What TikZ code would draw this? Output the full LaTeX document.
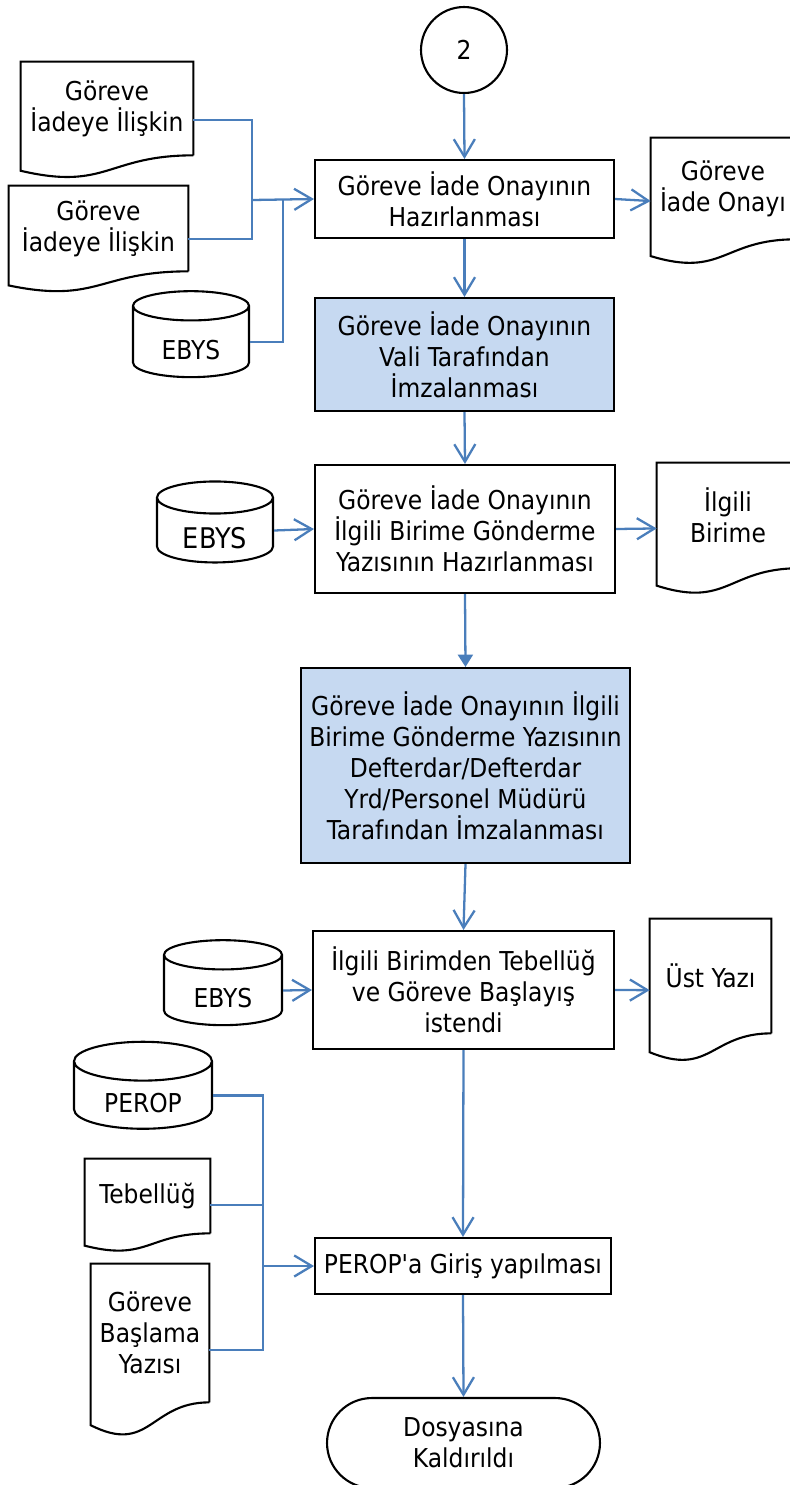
\documentclass[tikz,border=0pt]{standalone}
\usepackage{fontspec}
\setmainfont{DejaVu Sans Condensed}
\usetikzlibrary{arrows.meta,calc,shapes.geometric,shapes.misc}

\definecolor{lineblue}{RGB}{74,126,187}
\definecolor{boxblue}{RGB}{198,217,241}
\newcommand{\lowtext}[1]{\raisebox{-4.5pt}[\height][\depth]{#1}}

\begin{document}
\begin{tikzpicture}[x=0.02cm, y=-0.02cm,
  every node/.style={font=\fontsize{14.8}{17.6}\selectfont, align=center, inner sep=0pt},
  stepbox/.style={draw, line width=1.2pt, rectangle},
  signbox/.style={stepbox, fill=boxblue},
  doc/.style={rectangle},
  db/.style={draw, line width=1.2pt, cylinder, shape border rotate=90, aspect=0.5},
  outline/.style={line width=1.2pt},
  flow/.style={draw=lineblue, line width=1.3pt},
  >={Straight Barb[length=10pt,width=12pt]}]
\useasboundingbox (0,0) rectangle (790,1485);

\node [draw, circle, line width=1.2pt, minimum size=1.72cm] (c2) at (464,50) {2};
\node [stepbox, minimum width=5.98cm, minimum height=1.56cm] (b1) at (464.5,199) {Göreve İade Onayının\\Hazırlanması};
\node [signbox, minimum width=5.98cm, minimum height=2.26cm] (b2) at (464.5,354.5) {Göreve İade Onayının\\Vali Tarafından\\İmzalanması};
\node [stepbox, minimum width=6cm, minimum height=2.56cm] (b3) at (465,529) {Göreve İade Onayının\\İlgili Birime Gönderme\\Yazısının Hazırlanması};
\node [signbox, minimum width=6.58cm, minimum height=3.9cm] (b4) at (465.5,765.5) {Göreve İade Onayının İlgili\\Birime Gönderme Yazısının\\Defterdar/Defterdar\\Yrd/Personel Müdürü\\Tarafından İmzalanması};
\node [stepbox, minimum width=6.02cm, minimum height=2.36cm] (b5) at (463.5,990) {İlgili Birimden Tebellüğ\\ve Göreve Başlayış\\istendi};
\node [stepbox, minimum width=5.92cm, minimum height=1.12cm] (b6) at (463,1266) {PEROP\textquotesingle a Giriş yapılması};
\node [draw, rounded rectangle, line width=1.2pt, minimum width=5.46cm, minimum height=1.8cm] (term) at (463.5,1443) {Dosyasına\\Kaldırıldı};

\node [doc, minimum width=3.44cm, minimum height=1.86cm] (ilsk1) at (107,108.5) {Göreve\\İadeye İlişkin};
\node [doc, minimum width=3.58cm, minimum height=1.7cm] (ilsk2) at (98.5,228.5) {Göreve\\İadeye İlişkin};
\node [doc, minimum width=2.88cm, minimum height=2.02cm] (dgio) at (723,188.5) {Göreve\\İade Onayı};
\node [doc, minimum width=2.84cm, minimum height=2.1cm] (dilg) at (728,515.4) {İlgili\\Birime};
\node [doc, minimum width=2.42cm, minimum height=2.28cm] (dust) at (710.5,976) {Üst Yazı};
\node [doc, minimum width=2.5cm, minimum height=1.48cm] (teb) at (147.5,1196) {Tebellüğ};
\node [doc, minimum width=2.36cm, minimum height=2.76cm] (gby) at (150,1333) {Göreve\\Başlama\\Yazısı};

\node [db, minimum width=2.32cm, minimum height=1.72cm] (ebys1) at (191,342) {\lowtext{EBYS}};
\node [db, minimum width=2.32cm, minimum height=1.62cm, font=\fontsize{16.2}{19}\selectfont] (ebys2) at (215,530.5) {\lowtext{EBYS}};
\node [db, minimum width=2.36cm, minimum height=1.7cm] (ebys3) at (223,990.5) {\lowtext{EBYS}};
\node [db, minimum width=2.76cm, minimum height=1.74cm] (perop) at (143,1095.5) {\lowtext{PEROP}};

\foreach \dc in {ilsk1,ilsk2,dgio,dilg,dust,teb,gby} {
  \draw [outline] (\dc.south east) -- (\dc.north east) -- (\dc.north west)
    -- ($(\dc.north west)!1.1646!(\dc.south west)$)
    .. controls ($(\dc.north)!1.381!(\dc.south)$) and (\dc.south) .. (\dc.south east);
  \coordinate (\dc-w) at ($(\dc.north west)!0.6234!(\dc.south west)$);
  \coordinate (\dc-e) at ($(\dc.north east)!0.6234!(\dc.south east)$);
}

\coordinate (j1) at (252,200);
\coordinate (j2) at (283,200);
\coordinate (j3) at (263,1266);

\draw [flow, ->] (c2.south) -- (b1.north);
\draw [flow, ->] (b1.south) -- (b2.north);
\draw [flow, ->] (b2.south) -- (b3.north);
\draw [flow, -{Triangle[length=7pt,width=8.5pt]}] (b3.south) -- (b4.north);
\draw [flow, ->] (b4.south) -- (b5.north);
\draw [flow, ->] (b5.south) -- (b6.north);
\draw [flow, ->] (b6.south) -- (term.north);

\draw [flow] (ilsk1-e) -| (j1);
\draw [flow] (ilsk2-e) -| (j1);
\draw [flow] (ebys1.east) -| (j2);
\draw [flow, ->] (j1) -- (b1.west);
\draw [flow, ->] (b1.east) -- (dgio-w);

\draw [flow, ->] (ebys2.east) -- (b3.west);
\draw [flow, ->] (b3.east) -- (dilg-w);

\draw [flow, ->] (ebys3.east) -- (b5.west);
\draw [flow, ->] (b5.east) -- (dust-w);

\draw [flow] (perop.east) -| (j3);
\draw [flow] (teb-e) -| (j3);
\draw [flow] (gby-e) -| (j3);
\draw [flow, ->] (j3) -- (b6.west);
\end{tikzpicture}
\end{document}
